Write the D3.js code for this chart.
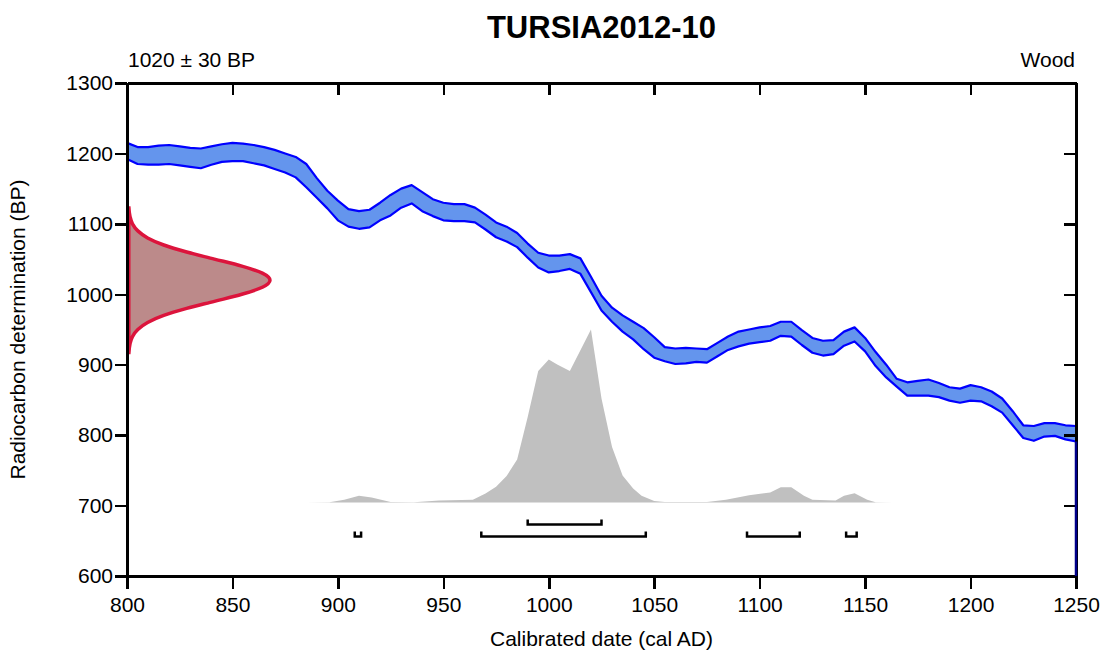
<html>
<head>
<title>TURSIA2012-10</title>
<script src="https://d3js.org/d3.v7.min.js"></script>
<style>
body { margin: 0; background: #fff; }

/* Style information for axis lines and tick marks */
.axis path,
.axis line {
    fill: none;
    stroke: black;
    stroke-width: 2.5;
    shape-rendering: crispEdges;
}

.axis text {
    font-family: "Liberation Sans", Arial, sans-serif;
    font-size: 21px;
    fill: black;
}

.label {
    font-family: "Liberation Sans", Arial, sans-serif;
    font-size: 21px;
    fill: black;
}
</style>
</head>
<body>
<div id="vis_container"></div>
<script>

// Calibration curve (IntCal), upper and lower edges of the 1 sigma band, BP
var curveYears = [800, 805, 810, 815, 820, 825, 830, 835, 840, 845, 850, 855, 860, 865, 870, 875, 880, 885, 890, 895,
    900, 905, 910, 915, 920, 925, 930, 935, 940, 945, 950, 955, 960, 965, 970, 975, 980, 985, 990, 995,
    1000, 1005, 1010, 1015, 1020, 1025, 1030, 1035, 1040, 1045, 1050, 1055, 1060, 1065, 1070, 1075, 1080, 1085, 1090, 1095,
    1100, 1105, 1110, 1115, 1120, 1125, 1130, 1135, 1140, 1145, 1150, 1155, 1160, 1165, 1170, 1175, 1180, 1185, 1190, 1195,
    1200, 1205, 1210, 1215, 1220, 1225, 1230, 1235, 1240, 1245, 1250];
var curveUpper = [1215, 1209, 1209, 1211, 1212, 1210, 1208, 1207, 1210, 1213, 1215, 1214, 1212, 1209, 1205, 1200, 1195, 1185, 1165, 1147,
    1133, 1121, 1118, 1120, 1130, 1141, 1150, 1155, 1145, 1135, 1130, 1128, 1128, 1123, 1113, 1102, 1096, 1087, 1072, 1059,
    1055, 1055, 1057, 1051, 1025, 998, 981, 970, 961, 952, 939, 925, 923, 924, 923, 922, 931, 940, 947, 950,
    953, 955, 961, 961, 949, 938, 934, 935, 947, 953, 938, 918, 900, 880, 875, 877, 879, 874, 868, 866,
    871, 868, 862, 852, 834, 814, 813, 817, 817, 814, 813];
var curveLower = [1192, 1185, 1184, 1184, 1185, 1183, 1181, 1179, 1184, 1188, 1189, 1189, 1186, 1183, 1178, 1173, 1166, 1152, 1137, 1122,
    1105, 1096, 1093, 1095, 1105, 1112, 1123, 1129, 1118, 1111, 1105, 1104, 1104, 1102, 1092, 1081, 1075, 1067, 1052, 1038,
    1031, 1033, 1036, 1029, 1003, 977, 961, 947, 936, 922, 910, 905, 901, 902, 904, 903, 912, 921, 926, 930,
    932, 934, 941, 940, 928, 917, 913, 915, 927, 933, 919, 898, 882, 869, 856, 856, 856, 854, 849, 846,
    849, 848, 841, 832, 814, 796, 792, 798, 799, 794, 791];

// Measurement 1020 +/- 30 BP, relative probability along the BP axis
var measBP = [1125, 1110, 1100, 1090, 1080, 1070, 1060, 1050, 1040, 1030, 1020, 1010, 1000, 990, 980, 970, 960, 950, 940, 930, 915];
var measProb = [0.002, 0.011, 0.028, 0.066, 0.135, 0.249, 0.411, 0.607, 0.801, 0.946, 1, 0.946, 0.801, 0.607, 0.411, 0.249, 0.135, 0.066, 0.028, 0.011, 0.002];

// Calibrated distribution (relative probability)
var distYears = [885, 896, 903, 910, 916, 925, 936, 948, 964, 970, 975, 980, 985, 990, 995, 1000, 1004, 1010, 1020, 1025,
    1030, 1035, 1040, 1044, 1050, 1055, 1075, 1084, 1095, 1105, 1110, 1115, 1121, 1125, 1136, 1140, 1145, 1151, 1155, 1163];
var distProb = [0, 0.002, 0.017, 0.040, 0.029, 0.004, 0.002, 0.012, 0.017, 0.052, 0.092, 0.154, 0.249, 0.495, 0.761, 0.827, 0.798, 0.761, 1.0, 0.601,
    0.321, 0.156, 0.081, 0.040, 0.009, 0.003, 0.003, 0.016, 0.042, 0.058, 0.088, 0.088, 0.039, 0.016, 0.012, 0.039, 0.054, 0.016, 0.002, 0];

// Highest probability ranges
var range68 = [[990, 1025]];
var range95 = [[908, 911], [968, 1046], [1094, 1119], [1141, 1146]];

var xTicks = [800, 850, 900, 950, 1000, 1050, 1100, 1150, 1200, 1250];
var yTicks = [600, 700, 800, 900, 1000, 1100, 1200, 1300];

var width = 1101;
var height = 651;
var padLeft = 127, padRight = 1076, padTop = 83, padBottom = 576;

var svg = d3.select("#vis_container")
    .append("svg")
    .attr("width", width)
    .attr("height", height);

var x = d3.scaleLinear().domain([800, 1250]).range([padLeft, padRight]);
var y = d3.scaleLinear().domain([600, 1300]).range([padBottom, padTop]);

// distribution sits just above the 700 BP line
var base = y(700) - 3;
var p = d3.scaleLinear().domain([0, 1]).range([base, base - 173]);
// measurement curve drawn outward from the BP axis
var m = d3.scaleLinear().domain([0, 1]).range([padLeft + 1.5, padLeft + 143]);

// calibrated distribution
svg.append("path")
    .datum(distYears.map(function(d, i) { return [d, distProb[i]]; }))
    .attr("fill", "#c0c0c0")
    .attr("d", d3.area()
        .x(function(d) { return x(d[0]); })
        .y0(base)
        .y1(function(d) { return p(d[1]); }));

// calibration curve band
var band = curveYears.map(function(d, i) { return [d, curveUpper[i], curveLower[i]]; });
svg.append("path")
    .datum(band)
    .attr("fill", "#6495ed")
    .attr("d", d3.area()
        .x(function(d) { return x(d[0]); })
        .y0(function(d) { return y(d[2]); })
        .y1(function(d) { return y(d[1]); }));

[1, 2].forEach(function(k) {
    svg.append("path")
        .datum(band)
        .attr("fill", "none")
        .attr("stroke", "#0000ff")
        .attr("stroke-width", 2.2)
        .attr("stroke-linejoin", "round")
        .attr("d", d3.line()
            .x(function(d) { return x(d[0]); })
            .y(function(d) { return y(d[k]); }));
});

// measurement distribution
var meas = measBP.map(function(d, i) { return [d, measProb[i]]; });
svg.append("path")
    .attr("fill", "#bc8a8a")
    .attr("stroke", "#dc143c")
    .attr("stroke-width", 3.5)
    .attr("d", d3.line()
        .curve(d3.curveMonotoneY)
        .x(function(d) { return m(d[1]); })
        .y(function(d) { return y(d[0]); })(meas) + "Z");

// range bars
function drawRanges(ranges, yy) {
    ranges.forEach(function(r) {
        svg.append("path")
            .attr("fill", "none")
            .attr("stroke", "black")
            .attr("stroke-width", 2.5)
            .attr("d", "M" + x(r[0]) + "," + (yy - 5) + "V" + yy + "H" + x(r[1]) + "V" + (yy - 5));
    });
}
drawRanges(range68, y(700) + 19);
drawRanges(range95, y(700) + 31);

// axes
var fmt = d3.format("d");

svg.append("g")
    .attr("class", "axis")
    .attr("transform", "translate(0," + padBottom + ")")
    .call(d3.axisBottom(x).tickValues(xTicks).tickFormat(fmt).tickSize(13).tickSizeOuter(0).tickPadding(8));

svg.append("g")
    .attr("class", "axis")
    .attr("transform", "translate(0," + padTop + ")")
    .call(d3.axisBottom(x).tickValues(xTicks).tickSize(12).tickSizeOuter(0).tickFormat(""));

svg.append("g")
    .attr("class", "axis")
    .attr("transform", "translate(" + padLeft + ",0)")
    .call(d3.axisLeft(y).tickValues(yTicks).tickFormat(fmt).tickSize(12).tickSizeOuter(0).tickPadding(2));

svg.append("g")
    .attr("class", "axis")
    .attr("transform", "translate(" + padRight + ",0)")
    .call(d3.axisLeft(y).tickValues(yTicks).tickSize(12).tickSizeOuter(0).tickFormat(""));

// the curve band runs off the bottom along the right edge
svg.append("line")
    .attr("x1", x(1250)).attr("x2", x(1250))
    .attr("y1", y(curveLower[curveLower.length - 1])).attr("y2", y(600))
    .attr("stroke", "#00008b")
    .attr("stroke-width", 2.5);

// texts
svg.append("text")
    .attr("x", (padLeft + padRight) / 2)
    .attr("y", 38)
    .attr("text-anchor", "middle")
    .style("font-family", "'Liberation Sans', Arial, sans-serif")
    .style("font-size", "31px")
    .style("font-weight", "bold")
    .text("TURSIA2012-10");

svg.append("text")
    .attr("class", "label")
    .attr("x", padLeft + 1)
    .attr("y", 67)
    .text("1020 \u00b1 30 BP");

svg.append("text")
    .attr("class", "label")
    .attr("x", padRight - 1)
    .attr("y", 67)
    .attr("text-anchor", "end")
    .text("Wood");

svg.append("text")
    .attr("class", "label")
    .attr("x", (padLeft + padRight) / 2)
    .attr("y", 646)
    .attr("text-anchor", "middle")
    .text("Calibrated date (cal AD)");

svg.append("text")
    .attr("class", "label")
    .attr("transform", "translate(25," + ((padTop + padBottom) / 2) + ") rotate(-90)")
    .attr("text-anchor", "middle")
    .text("Radiocarbon determination (BP)");

</script>
</body>
</html>
